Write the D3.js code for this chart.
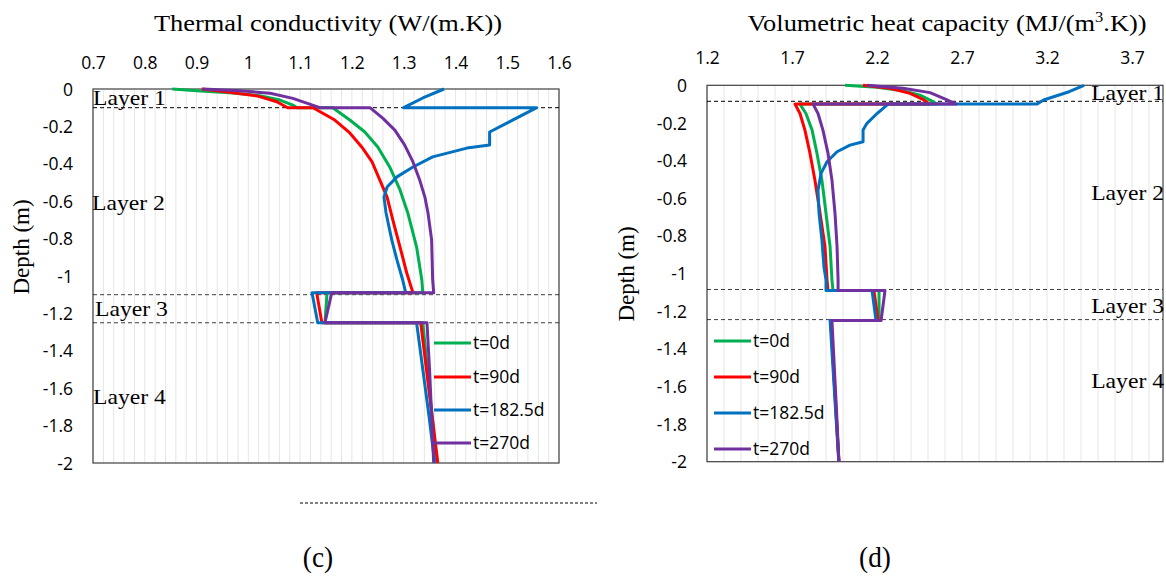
<!DOCTYPE html>
<html><head><meta charset="utf-8">
<script src="https://cdn.jsdelivr.net/npm/d3@7"></script>
<style>
body{margin:0;background:#fff;}
svg{display:block;}
.tick-lab{font-family:'Open Sans',sans-serif;font-size:17.5px;fill:#000;}
.serif{font-family:'Liberation Serif','Times New Roman',serif;fill:#000;}
</style></head>
<body>
<svg id="chart" width="1166" height="576"></svg>
<script>
// ---------- DATA ----------
const seriesNames = ["t=0d", "t=90d", "t=182.5d", "t=270d"];
const seriesColors = ["#00b050", "#ff0000", "#0070c0", "#7030a0"];

const kXTicks = [0.7, 0.8, 0.9, 1.0, 1.1, 1.2, 1.3, 1.4, 1.5, 1.6];
const cXTicks = [1.2, 1.7, 2.2, 2.7, 3.2, 3.7];
const yTicks = [0, -0.2, -0.4, -0.6, -0.8, -1, -1.2, -1.4, -1.6, -1.8, -2];

// Thermal conductivity (c)
const k0Depth = [0, -0.011, -0.02, -0.036, -0.059, -0.086, -0.1, -0.1, -0.166, -0.23, -0.31, -0.417, -0.54, -0.663, -0.845, -1.02, -1.09, -1.09, -1.25, -1.25, -1.5, -1.75, -2];
const k0Val   = [0.853, 0.907, 0.964, 1.022, 1.061, 1.086, 1.094, 1.163, 1.196, 1.225, 1.250, 1.273, 1.293, 1.308, 1.325, 1.335, 1.337, 1.152, 1.148, 1.337, 1.346, 1.355, 1.364];
const k90Depth = [0, -0.018, -0.037, -0.068, -0.1, -0.1, -0.166, -0.235, -0.31, -0.39, -0.487, -0.578, -0.70, -0.845, -0.984, -1.09, -1.09, -1.25, -1.25, -1.5, -1.75, -2];
const k90Val   = [0.910, 0.964, 1.017, 1.055, 1.076, 1.125, 1.167, 1.196, 1.219, 1.239, 1.254, 1.268, 1.279, 1.293, 1.306, 1.318, 1.132, 1.142, 1.333, 1.344, 1.355, 1.366];
const k182Depth = [0, -0.048, -0.1, -0.1, -0.23, -0.30, -0.316, -0.363, -0.417, -0.47, -0.524, -0.578, -0.663, -0.807, -0.914, -1.02, -1.09, -1.09, -1.25, -1.25, -1.5, -1.75, -2];
const k182Val   = [1.378, 1.337, 1.30, 1.557, 1.466, 1.466, 1.422, 1.356, 1.318, 1.287, 1.268, 1.262, 1.266, 1.277, 1.287, 1.298, 1.304, 1.123, 1.134, 1.325, 1.337, 1.349, 1.360];
const k270Depth = [0, -0.009, -0.023, -0.05, -0.1, -0.1, -0.157, -0.22, -0.30, -0.39, -0.487, -0.578, -0.663, -0.807, -1.02, -1.09, -1.09, -1.25, -1.25, -1.5, -1.75, -2];
const k270Val   = [0.912, 0.984, 1.042, 1.086, 1.138, 1.235, 1.260, 1.283, 1.302, 1.318, 1.331, 1.341, 1.347, 1.354, 1.356, 1.358, 1.161, 1.148, 1.345, 1.350, 1.354, 1.358];

// Volumetric heat capacity (d)
const c0Depth = [0, -0.01, -0.029, -0.052, -0.087, -0.1, -0.1, -0.15, -0.238, -0.362, -0.504, -0.68, -0.858, -1.035, -1.09, -1.09, -1.25, -1.25, -1.5, -1.75, -2];
const c0Val   = [2.012, 2.2, 2.353, 2.453, 2.53, 2.553, 1.747, 1.782, 1.818, 1.847, 1.876, 1.9, 1.924, 1.935, 1.941, 2.212, 2.212, 1.930, 1.945, 1.96, 1.976];
const c90Depth = [0, -0.016, -0.043, -0.075, -0.1, -0.1, -0.15, -0.238, -0.362, -0.504, -0.68, -0.858, -1.035, -1.09, -1.09, -1.25, -1.25, -1.5, -1.75, -2];
const c90Val   = [2.118, 2.276, 2.394, 2.47, 2.51, 1.718, 1.747, 1.776, 1.806, 1.835, 1.865, 1.894, 1.906, 1.912, 2.182, 2.206, 1.928, 1.944, 1.96, 1.976];
const c182Depth = [0, -0.034, -0.078, -0.1, -0.1, -0.15, -0.202, -0.238, -0.30, -0.318, -0.353, -0.406, -0.468, -0.557, -0.68, -0.823, -0.965, -1.035, -1.09, -1.09, -1.25, -1.25, -1.5, -1.75, -2];
const c182Val   = [3.418, 3.33, 3.18, 3.14, 2.265, 2.2, 2.141, 2.118, 2.118, 2.041, 1.965, 1.906, 1.871, 1.853, 1.859, 1.876, 1.888, 1.9, 1.9, 2.171, 2.194, 1.924, 1.941, 1.958, 1.975];
const c270Depth = [0, -0.016, -0.039, -0.078, -0.1, -0.1, -0.15, -0.238, -0.362, -0.504, -0.68, -0.858, -1.035, -1.09, -1.09, -1.25, -1.25, -1.5, -1.75, -2];
const c270Val   = [2.141, 2.353, 2.512, 2.612, 2.665, 1.824, 1.853, 1.882, 1.912, 1.935, 1.953, 1.965, 1.971, 1.971, 2.247, 2.224, 1.935, 1.949, 1.963, 1.976];

const kLayerLines = [-0.1, -1.1, -1.25];
const cLayerLines = [-0.085, -1.085, -1.245];
const layerNames = ["Layer 1", "Layer 2", "Layer 3", "Layer 4"];

// ---------- DRAW ----------
const svg = d3.select("#chart");
const fmt = d => d === 0 ? "0" : String(+d.toFixed(1));

function panel(opt) {
  const x = d3.scaleLinear().domain(opt.xDomain).range([opt.left, opt.right]);
  const y = d3.scaleLinear().domain([-2, 0]).range([opt.bottom, opt.top]);
  const g = svg.append("g");

  // vertical light gridlines
  const grid = d3.range(opt.xDomain[0], opt.xDomain[1] + 1e-9, opt.gridStep);
  g.append("g").selectAll("line").data(grid).join("line")
    .attr("x1", d => x(d)).attr("x2", d => x(d))
    .attr("y1", opt.top).attr("y2", opt.bottom)
    .attr("stroke", "#e6e6e6").attr("stroke-width", 1);

  // frame
  g.append("rect").attr("x", opt.left).attr("y", opt.top)
    .attr("width", opt.right - opt.left).attr("height", opt.bottom - opt.top)
    .attr("fill", "none").attr("stroke", "#404040").attr("stroke-width", 1.2);

  // top axis labels
  const xAxis = d3.axisTop(x).tickValues(opt.xTicks).tickSize(0).tickFormat(fmt);
  const ax = g.append("g").attr("transform", `translate(0,${opt.xLabY})`).call(xAxis);
  ax.select(".domain").remove();
  ax.selectAll("text").attr("class", "tick-lab").attr("dy", "0.35em").attr("y", 0);

  // left axis labels
  const yAxis = d3.axisLeft(y).tickValues(yTicks).tickSize(0).tickFormat(fmt);
  const ay = g.append("g").attr("transform", `translate(${opt.left - 20},0)`).call(yAxis);
  ay.select(".domain").remove();
  ay.selectAll("text").attr("class", "tick-lab").attr("x", 0).attr("dy", "0.35em");

  // layer dashed lines
  g.append("g").selectAll("line").data(opt.layerLines).join("line")
    .attr("x1", opt.left).attr("x2", opt.right)
    .attr("y1", d => y(d)).attr("y2", d => y(d))
    .attr("stroke", "#000").attr("stroke-width", 1).attr("stroke-dasharray", "4,3")
    .attr("opacity", (d, i) => i === 0 ? 1 : 0.75);

  // series
  const line = d3.line().x(d => x(d[0])).y(d => y(d[1]));
  opt.series.forEach((s, i) => {
    g.append("path").datum(d3.zip(s.val, s.depth))
      .attr("d", line).attr("fill", "none")
      .attr("stroke", seriesColors[i]).attr("stroke-width", 3)
      .attr("stroke-linejoin", "round");
  });

  // legend
  seriesNames.forEach((n, i) => {
    const ly = opt.legY[i];
    g.append("line").attr("x1", opt.legX).attr("x2", opt.legX + 37)
      .attr("y1", ly).attr("y2", ly)
      .attr("stroke", seriesColors[i]).attr("stroke-width", 3);
    g.append("text").attr("class", "tick-lab").style("font-size", "17.5px")
      .attr("x", opt.legX + 39).attr("y", ly).attr("dy", "0.35em").text(n);
  });

  // layer labels
  opt.layerLab.forEach((p, i) => {
    g.append("text").attr("class", "serif")
      .attr("transform", `translate(${p[0]},${p[1]}) scale(1.1,1)`)
      .attr("text-anchor", opt.layerAnchor)
      .style("font-size", "21.5px").text(layerNames[i]);
  });

  // depth label
  g.append("text").attr("class", "serif")
    .attr("transform", `translate(${opt.depthX},${opt.depthY}) rotate(-90)`)
    .attr("text-anchor", "middle").style("font-size", "23px").text("Depth (m)");

  return {x, y};
}

panel({
  xDomain: [0.7, 1.6], gridStep: 0.02, xTicks: kXTicks,
  left: 93, right: 559, top: 89, bottom: 463, xLabY: 63,
  layerLines: kLayerLines,
  series: [
    {val: k0Val, depth: k0Depth}, {val: k90Val, depth: k90Depth},
    {val: k182Val, depth: k182Depth}, {val: k270Val, depth: k270Depth}
  ],
  legX: 434, legY: [343, 377, 410, 443],
  layerLab: [[93, 105], [92, 210], [95, 316], [93, 404]], layerAnchor: "start",
  depthX: 29, depthY: 247
});

panel({
  xDomain: [1.2, 1.2 + 456 / 170], gridStep: 0.1, xTicks: cXTicks,
  left: 707, right: 1163, top: 85.3, bottom: 461.7, xLabY: 58,
  layerLines: cLayerLines,
  series: [
    {val: c0Val, depth: c0Depth}, {val: c90Val, depth: c90Depth},
    {val: c182Val, depth: c182Depth}, {val: c270Val, depth: c270Depth}
  ],
  legX: 714, legY: [341, 377, 413, 449],
  layerLab: [[1164, 100], [1164, 200], [1164, 313], [1164, 388]], layerAnchor: "end",
  depthX: 634, depthY: 274
});

// titles
svg.append("text").attr("class", "serif")
  .attr("transform", "translate(328,31) scale(1.1,1)")
  .attr("text-anchor", "middle").style("font-size", "24px")
  .text("Thermal conductivity (W/(m.K))");
const t2 = svg.append("text").attr("class", "serif")
  .attr("transform", "translate(947,31) scale(1.1,1)")
  .attr("text-anchor", "middle").style("font-size", "24px");
t2.append("tspan").text("Volumetric heat capacity (MJ/(m");
t2.append("tspan").attr("dy", -9).style("font-size", "15px").text("3");
t2.append("tspan").attr("dy", 9).text(".K))");

// stray dashed line under (c)
svg.append("line").attr("x1", 300).attr("x2", 597).attr("y1", 503).attr("y2", 503)
  .attr("stroke", "#000").attr("stroke-width", 1).attr("stroke-dasharray", "3,2");

// captions
svg.append("text").attr("class", "serif")
  .attr("transform", "translate(318,567) scale(1.05,1.15)")
  .attr("text-anchor", "middle").style("font-size", "26px").text("(c)");
svg.append("text").attr("class", "serif")
  .attr("transform", "translate(875,567) scale(1.05,1.15)")
  .attr("text-anchor", "middle").style("font-size", "26px").text("(d)");
</script>
</body></html>
